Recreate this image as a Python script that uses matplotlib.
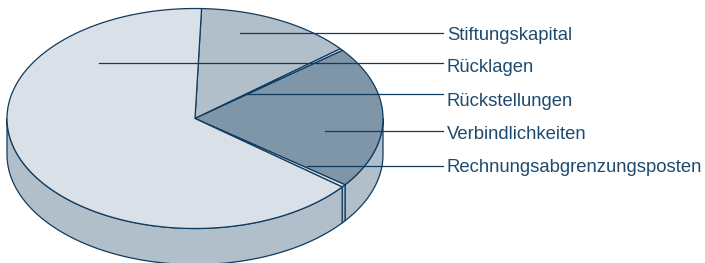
import numpy as np
import matplotlib.pyplot as plt
from matplotlib.patches import Polygon

plt.rcParams['font.family'] = ['Liberation Sans', 'DejaVu Sans']

# Passiva-Anteile in Prozent (aus dem Bild geschaetzt)
labels = ['Stiftungskapital', 'Rücklagen', 'Rückstellungen',
          'Verbindlichkeiten', 'Rechnungsabgrenzungsposten']
shares = [13.5, 64.8, 0.3, 20.9, 0.4]
# Reihenfolge der Segmente im Uhrzeigersinn ab der Startlinie oben
pie_order = [0, 2, 3, 4, 1]
top_colors = ['#b1bfcb', '#d9e0e7', '#dde3ea', '#7f95a8', '#dde3ea']

# Layout (Pixel)
cx, cy, rx, ry, depth = 195, 118.5, 188, 110, 36
start_angle = 88.0
edge = '#0f3b5f'
side_color = '#b1bfca'
text_color = '#1d4a6e'
leader_x0 = [240, 99, 247, 325, 307]
leader_y = [32.7, 63.3, 94, 130.5, 166]
text_base = [39.5, 72, 105.5, 139, 172.5]
leader_x1 = 443
text_x = 447

fig = plt.figure(figsize=(7.05, 2.63), dpi=100)
ax = fig.add_axes([0, 0, 1, 1])
ax.set_xlim(0, 705)
ax.set_ylim(263, 0)
ax.axis('off')


def rim(t, dz=0.0):
    r = np.radians(t)
    return np.column_stack([cx + rx * np.cos(r), cy - ry * np.sin(r) + dz])


total = float(sum(shares))
spans = {}
a = start_angle
for i in pie_order:
    span = shares[i] / total * 360.0
    spans[i] = (a - span, a)
    a -= span

# Seitenwaende (nur vordere Haelfte sichtbar)
for i in pie_order:
    e, s = spans[i]
    for k in range(-2, 2):
        lo = max(e, -180 + 360 * k)
        hi = min(s, 0 + 360 * k)
        if hi - lo <= 1e-6:
            continue
        t = np.linspace(lo, hi, 200)
        pts = np.vstack([rim(t), rim(t[::-1], depth)])
        ax.add_patch(Polygon(pts, closed=True, facecolor=side_color,
                             edgecolor=edge, lw=0.9, joinstyle='round'))

# Deckflaeche
for i in pie_order:
    e, s = spans[i]
    t = np.linspace(s, e, max(int((s - e) * 2), 4))
    pts = np.vstack([[cx, cy], rim(t)])
    ax.add_patch(Polygon(pts, closed=True, facecolor=top_colors[i],
                         edgecolor=edge, lw=0.9, joinstyle='round'))

# Beschriftungen
for lab, x0, y, yb in zip(labels, leader_x0, leader_y, text_base):
    ax.plot([x0, leader_x1], [y, y], color=edge, lw=0.9)
    ax.text(text_x, yb, lab, color=text_color, fontsize=13.3,
            va='baseline', ha='left')

fig.savefig('out.png', dpi=100)
